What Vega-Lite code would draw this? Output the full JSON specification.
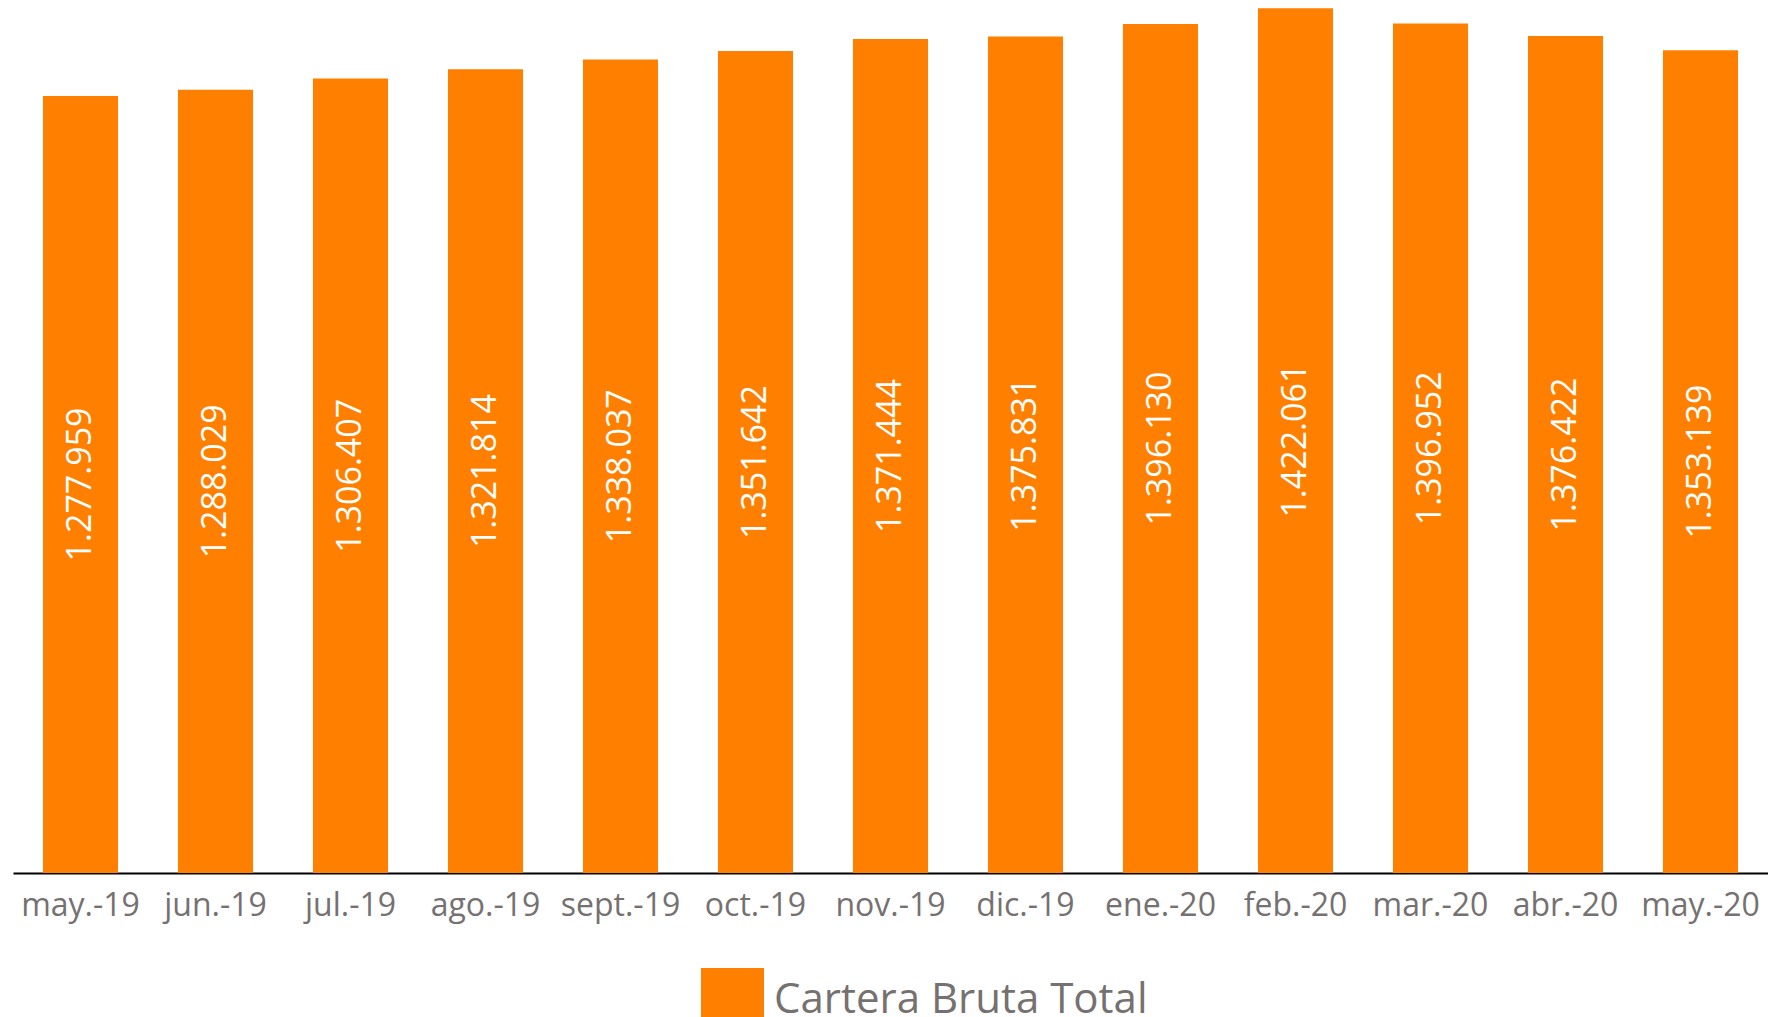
{
  "$schema": "https://vega.github.io/schema/vega-lite/v6.json",
  "width": 1755,
  "height": 873,
  "autosize": "none",
  "padding": {"left": 13, "top": 0, "right": 0, "bottom": 144},
  "background": "white",
  "config": {
    "view": {"stroke": null},
    "locale": {"number": {"decimal": ",", "thousands": ".", "grouping": [3], "currency": ["", ""]}},
    "font": "Open Sans"
  },
  "data": {"values": [
    {"mes": "may.-19", "valor": 1277959, "serie": "Cartera Bruta Total"},
    {"mes": "jun.-19", "valor": 1288029, "serie": "Cartera Bruta Total"},
    {"mes": "jul.-19", "valor": 1306407, "serie": "Cartera Bruta Total"},
    {"mes": "ago.-19", "valor": 1321814, "serie": "Cartera Bruta Total"},
    {"mes": "sept.-19", "valor": 1338037, "serie": "Cartera Bruta Total"},
    {"mes": "oct.-19", "valor": 1351642, "serie": "Cartera Bruta Total"},
    {"mes": "nov.-19", "valor": 1371444, "serie": "Cartera Bruta Total"},
    {"mes": "dic.-19", "valor": 1375831, "serie": "Cartera Bruta Total"},
    {"mes": "ene.-20", "valor": 1396130, "serie": "Cartera Bruta Total"},
    {"mes": "feb.-20", "valor": 1422061, "serie": "Cartera Bruta Total"},
    {"mes": "mar.-20", "valor": 1396952, "serie": "Cartera Bruta Total"},
    {"mes": "abr.-20", "valor": 1376422, "serie": "Cartera Bruta Total"},
    {"mes": "may.-20", "valor": 1353139, "serie": "Cartera Bruta Total"}
  ]},
  "encoding": {
    "x": {
      "field": "mes", "type": "nominal", "sort": null,
      "scale": {"paddingInner": 0.444, "paddingOuter": 0.222},
      "axis": {
        "title": null, "ticks": false, "grid": false,
        "domainColor": "#000000", "domainWidth": 2,
        "labelAngle": 0, "labelFont": "Open Sans", "labelFontSize": 32,
        "labelColor": "#767171", "labelPadding": 17, "labelLimit": 300
      }
    }
  },
  "layer": [
    {
      "mark": {"type": "bar", "color": "#FF8000"},
      "encoding": {
        "y": {"field": "valor", "type": "quantitative", "scale": {"domain": [0, 1435700], "nice": false}, "axis": null},
        "color": {
          "field": "serie", "type": "nominal",
          "scale": {"range": ["#FF8000"]},
          "legend": {
            "title": null, "orient": "none", "legendX": 688, "legendY": 968,
            "symbolType": "square", "symbolSize": 3969, "symbolStrokeWidth": 0,
            "symbolOpacity": 1, "labelFontSize": 42, "labelColor": "#767171",
            "labelFont": "Open Sans", "labelOffset": 10, "labelLimit": 800, "padding": 0
          }
        }
      }
    },
    {
      "mark": {"type": "text", "angle": 270, "color": "white", "fontSize": 34, "align": "center", "baseline": "middle", "font": "Open Sans"},
      "encoding": {
        "y": {"field": "valor", "type": "quantitative", "scale": {"domain": [0, 2871400], "nice": false}, "axis": null},
        "text": {"field": "valor", "type": "quantitative", "format": ",d"}
      }
    }
  ],
  "resolve": {"scale": {"y": "independent"}}
}
